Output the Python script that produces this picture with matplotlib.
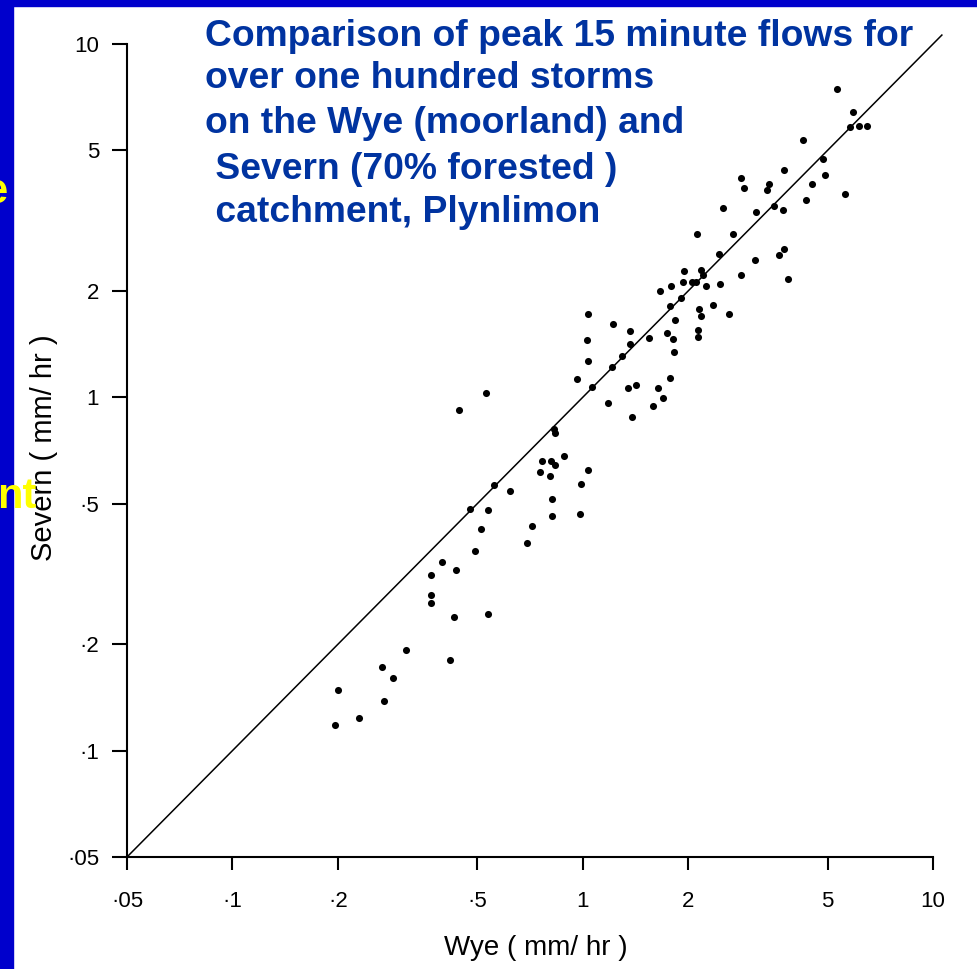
import matplotlib
matplotlib.use("Agg")
import matplotlib.pyplot as plt
from matplotlib.patches import Rectangle

# peak 15 minute flows (mm/hr), one point per storm
wye = [0.695, 0.492, 0.397, 0.435, 0.368, 0.368, 0.368, 0.430, 0.536, 0.313, 0.419, 0.268, 0.287, 0.200, 0.271, 0.230, 0.196,
       1.037, 1.291, 1.215, 0.963, 1.065, 1.349, 1.422, 1.178, 1.386, 0.528, 0.442, 0.826, 0.833, 0.886, 0.765, 0.811, 0.835,
       1.037, 0.755, 0.806, 0.991, 0.819, 0.817, 0.982, 0.621, 0.557, 0.476, 0.536, 0.513, 0.715,
       2.124, 1.950, 1.937, 2.050, 2.110, 1.782, 1.658, 1.903, 1.779, 2.146, 2.181, 2.609, 1.838, 1.035, 1.223, 1.368, 1.026,
       1.542, 1.736, 1.809, 2.128, 2.133, 1.368, 1.821, 1.779, 1.644, 1.699, 1.586,
       5.306, 5.907, 5.807, 6.132, 6.464, 4.264, 4.850, 4.904, 3.763, 4.512, 5.617, 2.829, 2.893, 3.395, 3.365, 4.337, 2.508,
       3.524, 3.738, 3.130, 2.692, 2.448, 3.753, 3.633, 3.095, 2.836, 3.853, 2.181, 2.203, 2.253, 2.471, 2.353]
severn = [0.386, 0.367, 0.341, 0.325, 0.314, 0.275, 0.261, 0.239, 0.243, 0.193, 0.181, 0.173, 0.161, 0.1485, 0.138, 0.1235, 0.118,
          1.265, 1.307, 1.217, 1.125, 1.068, 1.065, 1.084, 0.966, 0.878, 1.027, 0.919, 0.812, 0.795, 0.682, 0.659, 0.662, 0.642,
          0.624, 0.614, 0.600, 0.568, 0.516, 0.460, 0.467, 0.542, 0.565, 0.482, 0.480, 0.423, 0.431,
          2.894, 2.284, 2.126, 2.126, 2.118, 2.067, 2.001, 1.915, 1.811, 1.783, 1.700, 1.725, 1.653, 1.722, 1.617, 1.545, 1.454,
          1.476, 1.518, 1.466, 1.555, 1.485, 1.413, 1.345, 1.133, 1.065, 0.998, 0.946,
          7.447, 6.437, 5.837, 5.852, 5.864, 5.342, 4.729, 4.252, 4.393, 4.010, 3.772, 4.171, 3.922, 4.026, 3.864, 3.621, 3.430,
          3.489, 3.386, 3.348, 2.906, 2.546, 2.636, 2.525, 2.448, 2.221, 2.168, 2.290, 2.221, 2.071, 2.094, 1.823]

# axis ticks and their labels (decimal point written as a raised dot)
ticks = [0.05, 0.1, 0.2, 0.5, 1, 2, 5, 10]
tick_labels = ["·05", "·1", "·2", "·5", "1", "2", "5", "10"]
line_ends = [0.05, 10.6]  # 1:1 line

title_lines = ["Comparison of peak 15 minute flows for",
               "over one hundred storms",
               "on the Wye (moorland) and",
               " Severn (70% forested )",
               " catchment, Plynlimon"]

W, H = 977, 969
fig = plt.figure(figsize=(W / 100, H / 100), dpi=100, facecolor="white")
ax = fig.add_axes([127 / W, 1 - 857 / H, 806 / W, 813 / H])
ax.set_facecolor("none")

plt.rcParams["font.family"] = ["Liberation Sans", "DejaVu Sans"]

ax.set_xscale("log")
ax.set_yscale("log")
ax.set_xlim(0.05, 10)
ax.set_ylim(0.05, 10)

# scatter of storms + equal-flow line
ax.scatter(wye, severn, s=26, c="black", linewidths=0, zorder=3)
ax.plot(line_ends, line_ends, color="black", lw=1.1, clip_on=False)

# axes look of the scanned figure
for side in ["top", "right"]:
    ax.spines[side].set_visible(False)
for side in ["left", "bottom"]:
    ax.spines[side].set_linewidth(1.5)

ax.set_xticks(ticks)
ax.set_xticklabels(tick_labels, fontfamily="Liberation Sans")
ax.set_yticks(ticks)
ax.set_yticklabels(tick_labels, fontfamily="Liberation Sans")
ax.minorticks_off()
ax.tick_params(axis="x", direction="out", length=9.5, width=1.5, pad=15, labelsize=16)
ax.tick_params(axis="y", direction="out", length=11, width=1.5, pad=9, labelsize=16)

ax.set_xlabel("Wye ( mm/ hr )", fontsize=20, fontfamily="Liberation Sans", va="center")
ax.xaxis.set_label_coords(0.5074, -0.1119)
ax.set_ylabel("Severn ( mm/ hr )", fontsize=21, fontfamily="Liberation Sans", va="center")
ax.yaxis.set_label_coords(-0.103, 0.504)

# blue slide frame
blue = "#0000CC"
fig.add_artist(Rectangle((0, 0), 13 / W, 1, transform=fig.transFigure, color=blue, zorder=0))
fig.add_artist(Rectangle((0, 1 - 6 / H), 1, 6 / H, transform=fig.transFigure, color=blue, zorder=0))

# slide title on top of the chart
baselines = [46, 88, 133, 179, 222]
for txt, yb in zip(title_lines, baselines):
    fig.text(205 / W, 1 - yb / H, txt, fontsize=26.8, fontweight="bold", color="#0033A0",
             fontfamily="Liberation Sans", va="baseline", ha="left")

# bits of yellow text from the slide underneath
fig.text(8 / W, 1 - 203 / H, "e", fontsize=30, fontweight="bold", color="#FFFF00",
         fontfamily="Liberation Sans", va="baseline", ha="right")
fig.text(37 / W, 1 - 508 / H, "nt", fontsize=30, fontweight="bold", color="#FFFF00",
         fontfamily="Liberation Sans", va="baseline", ha="right")

fig.savefig("out.png", dpi=100)
